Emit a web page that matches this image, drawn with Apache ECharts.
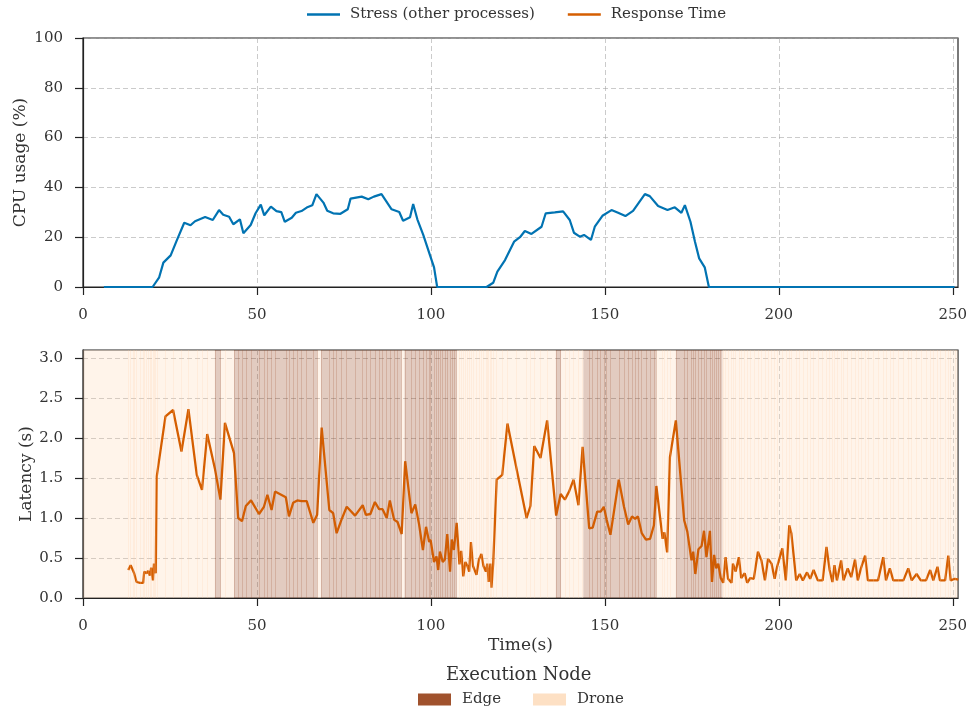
<!DOCTYPE html>
<html>
<head>
<meta charset="utf-8">
<script src="https://cdn.jsdelivr.net/npm/echarts@6/dist/echarts.min.js"></script>
<style>
html,body{margin:0;padding:0;background:#fff;}
#chart{width:971px;height:711px;}
</style>
</head>
<body>
<div id="chart"></div>
<script>
// ---- Data ----
const cpuTime = [6,20,21.9,23.1,25.2,26.9,29.1,30.9,32.2,35.1,37.3,39.1,40.3,42.0,43.2,45.1,46.1,48.2,49.6,51.1,52.1,54.0,55.6,57.0,58.0,60.0,61.2,62.8,64.3,65.9,67.1,69.1,70.2,71.9,74.0,76.1,76.9,80.1,82.0,83.6,85.8,88.7,90.9,92.0,94.0,94.9,96.1,97.8,99.7,100.9,101.8,116.0,117.9,119.1,121.3,123.9,125.6,127.0,128.9,131.8,133.0,135.6,138.0,139.9,141.1,142.8,144.0,146.0,147.1,149.3,151.9,153.8,155.9,158.1,161.5,162.9,165.3,168.0,170.1,172.0,173.0,174.6,175.9,177.1,178.7,179.9,250.5];
const cpuUsage = [0,0,3.9,9.8,12.7,18.5,25.8,24.8,26.4,28.1,26.9,30.9,29.0,28.2,25.2,27.2,21.6,24.9,29.6,33.1,28.8,32.3,30.5,30.1,26.2,27.8,29.8,30.5,31.9,32.8,37.3,33.9,30.6,29.6,29.4,31.2,35.5,36.3,35.2,36.3,37.3,31.2,30.1,26.6,28.0,33.3,27.2,20.9,12.9,7.9,0,0,1.7,6.2,10.8,18.2,20.0,22.5,21.3,24.2,29.6,30.0,30.4,26.9,21.8,20.2,20.9,18.9,24.2,28.6,30.9,29.8,28.5,30.6,37.3,36.5,32.5,30.9,32.0,29.8,32.9,26.2,18.2,11.5,7.9,0,0];

const latTime = [13.0,13.7,14.3,14.7,15.4,16.4,17.3,17.6,18.3,18.7,19.2,19.6,20.1,20.4,20.9,21.2,23.7,25.9,28.3,30.3,32.7,34.2,35.7,37.9,39.5,40.8,43.4,44.6,45.7,46.8,48.3,50.6,52.0,53.0,54.2,55.2,58.3,59.2,60.4,61.6,62.8,64.3,66.2,67.3,68.6,70.8,71.9,72.9,74.3,75.8,78.2,80.4,81.3,82.6,83.9,85.1,86.1,87.3,88.2,89.4,90.4,91.6,92.6,94.4,95.5,96.6,97.7,98.6,99.5,99.9,100.9,101.6,102.1,102.6,103.4,104.0,104.7,105.5,106.0,106.6,107.4,108.2,108.7,109.3,109.9,110.4,111.0,111.5,112.1,113.1,113.8,114.5,115.1,115.8,116.2,116.6,117.1,117.4,117.9,118.9,120.5,122.0,124.6,127.5,128.6,129.7,131.5,133.4,136.0,137.3,138.5,139.7,141.0,142.4,143.6,145.5,146.5,147.8,148.8,149.7,150.5,151.6,154.0,155.5,156.7,157.8,158.7,159.5,160.6,161.8,163.0,164.1,164.8,166.6,167.1,167.9,168.7,170.4,172.8,173.7,174.9,175.4,176.0,176.9,177.8,178.5,179.2,180.2,180.8,181.4,182.0,182.6,183.3,184.0,184.7,185.4,186.4,186.8,187.6,188.5,189.2,190.2,190.9,191.8,192.8,194.0,195.0,196.0,196.9,197.9,198.8,199.5,201.0,202.0,203.0,203.6,205.0,206.0,206.9,208.1,209.0,210.0,211.2,212.6,213.7,214.6,215.4,216.0,216.7,217.9,218.6,219.8,220.8,221.9,222.7,223.6,224.8,225.6,227.0,228.5,230.0,230.8,231.9,232.9,234.3,235.8,237.2,238.2,239.6,240.8,242.3,243.5,244.4,245.6,246.3,247.8,248.7,249.4,250.6,251.6];
const latValue = [0.35,0.41,0.35,0.31,0.20,0.19,0.19,0.33,0.31,0.34,0.28,0.38,0.22,0.43,0.31,1.52,2.27,2.35,1.83,2.36,1.54,1.35,2.05,1.62,1.23,2.19,1.81,1.00,0.96,1.15,1.22,1.05,1.14,1.29,1.10,1.33,1.26,1.02,1.19,1.22,1.21,1.21,0.94,1.04,2.13,1.10,1.06,0.81,0.98,1.14,1.03,1.16,1.04,1.05,1.20,1.11,1.11,1.00,1.22,0.98,0.95,0.80,1.71,1.06,1.17,0.92,0.60,0.89,0.70,0.73,0.45,0.52,0.35,0.58,0.45,0.48,0.80,0.33,0.73,0.60,0.94,0.42,0.59,0.27,0.45,0.41,0.33,0.70,0.40,0.29,0.48,0.55,0.40,0.33,0.43,0.20,0.43,0.13,0.43,1.48,1.54,2.18,1.62,1.00,1.15,1.90,1.75,2.22,1.03,1.30,1.23,1.33,1.48,1.16,1.89,0.87,0.88,1.08,1.08,1.14,0.98,0.79,1.48,1.14,0.92,1.02,0.99,1.02,0.81,0.73,0.74,0.91,1.40,0.74,0.82,0.57,1.76,2.22,0.97,0.83,0.47,0.58,0.30,0.61,0.65,0.84,0.51,0.84,0.20,0.54,0.37,0.43,0.25,0.19,0.51,0.24,0.19,0.43,0.33,0.51,0.25,0.31,0.19,0.25,0.24,0.58,0.47,0.22,0.49,0.43,0.24,0.39,0.62,0.22,0.91,0.81,0.22,0.30,0.22,0.32,0.24,0.35,0.22,0.22,0.64,0.35,0.20,0.41,0.22,0.47,0.22,0.37,0.26,0.48,0.22,0.37,0.53,0.22,0.22,0.22,0.51,0.22,0.37,0.22,0.22,0.22,0.37,0.22,0.30,0.22,0.22,0.35,0.22,0.39,0.22,0.22,0.53,0.22,0.24,0.23];

// Execution node intervals (Edge); everything else is Drone
const edgeStart = [37.9,43.4,68.4,92.4,135.9,143.8,170.4];
const edgeEnd   = [39.6,67.4,91.6,107.4,137.4,164.8,183.8];

const xTicks = [0,50,100,150,200,250];
const cpuTicks = [0,20,40,60,80,100];
const latTicks = [0,0.5,1.0,1.5,2.0,2.5,3.0];

// ---- Build ----
const XMAX = 251.5;
const FONT = 'DejaVu Serif';
const TXT = '#333';
const BLUE = '#0173B2';
const ORANGE = '#D55E00';
const EDGE = '#A0522D';

const cpuData = cpuTime.map((t,i)=>[t,cpuUsage[i]]);
const latData = latTime.map((t,i)=>[t,latValue[i]]);

const droneIntervals = [];
let prev = 0;
for (let i=0;i<edgeStart.length;i++){ droneIntervals.push([prev, edgeStart[i]]); prev = edgeEnd[i]; }
droneIntervals.push([prev, XMAX]);

const areas = [];
edgeStart.forEach((s,i)=>areas.push([{xAxis:s, itemStyle:{color:'rgba(160,82,45,0.3)'}},{xAxis:edgeEnd[i]}]));
droneIntervals.forEach(d=>areas.push([{xAxis:d[0], itemStyle:{color:'rgba(255,218,185,0.3)'}},{xAxis:d[1]}]));

function inEdge(t){ for (let i=0;i<edgeStart.length;i++){ if (t>=edgeStart[i] && t<=edgeEnd[i]) return true; } return false; }
const lines = latTime.map(t=>({xAxis:t, lineStyle:{color: inEdge(t)?'rgba(160,82,45,0.22)':'rgba(255,205,165,0.2)', width:1, type:'solid'}}));

const tickStyle = {color:'#222', width:1.2};
function xAxisCfg(gi){
  return {
    type:'value', gridIndex:gi, min:0, max:XMAX, interval:50,
    axisLine:{show:true, onZero:false, lineStyle:{color:'#222', width:1.2}},
    axisTick:{show:true, inside:false, length:8, lineStyle:tickStyle, customValues:xTicks},
    axisLabel:{show:true, color:TXT, fontFamily:FONT, fontSize:15, margin:21, customValues:xTicks,
      formatter:v=> (Math.abs(v%50)<1e-6 ? String(v) : '')},
    splitLine:{show:true, lineStyle:{color:'rgba(160,160,160,0.55)', type:[5,3], width:1}}
  };
}

const option = {
  animation:false,
  backgroundColor:'#fff',
  title:{text:'Execution Node', left:446, top:666, padding:0, textStyle:{fontFamily:FONT, fontSize:18, fontWeight:'normal', color:TXT}},
  legend:[
    {data:['Stress (other processes)','Response Time'], left:307, top:7, padding:0, icon:'rect', itemWidth:33, itemHeight:2.5, itemGap:33,
      textStyle:{fontFamily:FONT, fontSize:15, color:TXT, padding:[0,0,0,5]}},
    {data:['Edge','Drone'], left:418, top:692, padding:0, icon:'rect', itemWidth:33, itemHeight:12, itemGap:32,
      textStyle:{fontFamily:FONT, fontSize:15, color:TXT, padding:[0,0,0,6]}}
  ],
  grid:[
    {left:83, width:875, top:38, height:249, show:true, borderColor:'#222', borderWidth:1.2, backgroundColor:'transparent'},
    {left:83, width:875, top:350, height:248, show:true, borderColor:'#222', borderWidth:1.2, backgroundColor:'transparent'}
  ],
  xAxis:[
    xAxisCfg(0),
    Object.assign(xAxisCfg(1), {name:'Time(s)', nameLocation:'middle', nameGap:39, nameMoveOverlap:false, nameTextStyle:{fontFamily:FONT, fontSize:17, color:TXT}})
  ],
  yAxis:[
    {type:'value', gridIndex:0, min:0, max:100, interval:20,
      name:'CPU usage (%)', nameLocation:'middle', nameGap:54, nameMoveOverlap:false, nameTextStyle:{fontFamily:FONT, fontSize:17, color:TXT},
      axisLine:{show:true, lineStyle:{color:'#222', width:1.2}},
      axisTick:{show:true, length:8, lineStyle:tickStyle, customValues:cpuTicks},
      axisLabel:{color:TXT, fontFamily:FONT, fontSize:15, margin:20, customValues:cpuTicks},
      splitLine:{show:true, lineStyle:{color:'rgba(160,160,160,0.55)', type:[5,3], width:1}}},
    {type:'value', gridIndex:1, min:0, max:3.1, interval:0.5,
      name:'Latency (s)', nameLocation:'middle', nameGap:48, nameMoveOverlap:false, nameTextStyle:{fontFamily:FONT, fontSize:17, color:TXT},
      axisLine:{show:true, lineStyle:{color:'#222', width:1.2}},
      axisTick:{show:true, length:8, lineStyle:tickStyle, customValues:latTicks},
      axisLabel:{color:TXT, fontFamily:FONT, fontSize:15, margin:20, customValues:latTicks,
        formatter:v=> (Math.abs(v*2-Math.round(v*2))<1e-6 ? v.toFixed(1) : '')},
      splitLine:{show:true, lineStyle:{color:'rgba(140,140,140,0.5)', type:[5,3], width:1}}}
  ],
  series:[
    {name:'Stress (other processes)', type:'line', xAxisIndex:0, yAxisIndex:0, data:cpuData, showSymbol:false, symbol:'none',
      lineStyle:{color:BLUE, width:2.2}, itemStyle:{color:BLUE}, z:3},
    {name:'bands', type:'line', xAxisIndex:1, yAxisIndex:1, data:[], z:1, silent:true,
      markArea:{silent:true, data:areas},
      markLine:{silent:true, symbol:'none', label:{show:false}, data:lines}},
    {name:'Response Time', type:'line', xAxisIndex:1, yAxisIndex:1, data:latData, showSymbol:false, symbol:'none',
      lineStyle:{color:ORANGE, width:2.3}, itemStyle:{color:ORANGE}, z:4},
    {name:'Edge', type:'bar', xAxisIndex:1, yAxisIndex:1, data:[], itemStyle:{color:EDGE}},
    {name:'Drone', type:'bar', xAxisIndex:1, yAxisIndex:1, data:[], itemStyle:{color:'#FDE0C4'}}
  ]
};

const chart = echarts.init(document.getElementById('chart'), null, {renderer:'canvas'});
chart.setOption(option);
</script>
</body>
</html>
